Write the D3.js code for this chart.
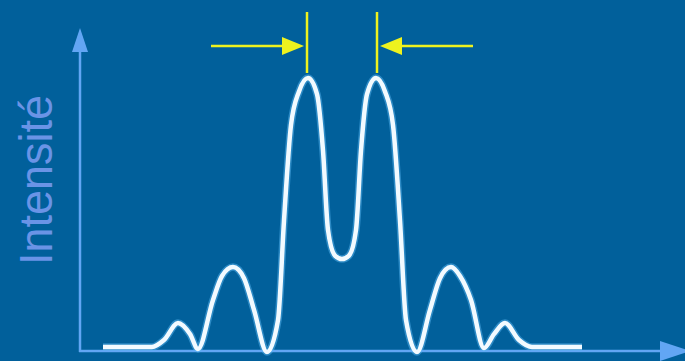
<!DOCTYPE html>
<html>
<head>
<meta charset="utf-8">
<script src="https://cdn.jsdelivr.net/npm/d3@7"></script>
<style>
  html, body { margin: 0; padding: 0; background: #01609b; }
  svg { display: block; }
</style>
</head>
<body>
<div id="chart-area"></div>
<script>
// Values (position in arbitrary units, intensity in %)
let positions = [-47.8, -38, -35.6, -32.8, -30.4, -28.8, -25.8, -24, -21.8, -19.6, -17.6, -15,
    -12.8, -11.6, -10.2, -8.6, -6.8, -5, -3.8, -2.8, -1.4, 0,
    1.4, 2.8, 3.8, 5, 6.8, 8.6, 10.2, 11.6, 12.8, 15,
    17.6, 19.6, 21.8, 23.6, 25.8, 28.4, 30.4, 32.6, 35.4, 38, 48];
let intensities = [0, 0, 2.6, 8.9, 4.8, -0.7, 17.5, 26.4, 29.7, 25.6, 13.8, -1.9,
    10, 47, 82.5, 95, 100, 94, 73, 43.5, 34, 32.7,
    34, 43.5, 73, 94, 100, 95, 82.5, 47, 10, -1.9,
    13.8, 25.6, 29.7, 26.4, 17.5, -0.4, 4.8, 8.9, 2.6, 0, 0];
// the two maxima marked by the yellow arrows
let peakPositions = [-6.8, 6.8];
let axisLabel = "Intensité";

let width = 685;
let height = 361;

let svg = d3.select("#chart-area").append("svg")
    .attr("width", width)
    .attr("height", height);

svg.append("rect")
    .attr("width", width)
    .attr("height", height)
    .attr("fill", "#01609b");

let xScale = d3.scaleLinear()
    .domain([-50, 50])
    .range([92, 592]);

let yScale = d3.scaleLinear()
    .domain([0, 100])
    .range([347, 78]);

let axisColor = "#62a6f4";
let originX = xScale(-52.4);
let originY = yScale(-1.5);

// y axis with arrow
svg.append("line")
    .attr("x1", originX).attr("x2", originX)
    .attr("y1", originY + 1).attr("y2", 44)
    .attr("stroke", axisColor)
    .attr("stroke-width", 2.5);
svg.append("path")
    .attr("d", `M${originX},28 L${originX - 8},52 L${originX + 8},52 Z`)
    .attr("fill", axisColor);

// x axis with arrow
svg.append("line")
    .attr("x1", originX - 1).attr("x2", 668)
    .attr("y1", originY).attr("y2", originY)
    .attr("stroke", axisColor)
    .attr("stroke-width", 2.5);
svg.append("path")
    .attr("d", `M690,${originY} L660,${originY - 10} L660,${originY + 10} Z`)
    .attr("fill", axisColor);

// y axis label
svg.append("text")
    .attr("transform", "translate(52,180) rotate(-90)")
    .attr("text-anchor", "middle")
    .attr("font-family", "'Liberation Sans Narrow', 'Arial Narrow', 'Liberation Sans', sans-serif")
    .attr("font-size", 46)
    .attr("textLength", 170)
    .attr("lengthAdjust", "spacingAndGlyphs")
    .attr("fill", "#6a94e6")
    .text(axisLabel);

// intensity curve
let data = positions.map((p, i) => ({x: p, y: intensities[i]}));

let line = d3.line()
    .x(d => xScale(d.x))
    .y(d => yScale(d.y))
    .curve(d3.curveMonotoneX);

svg.append("path")
    .datum(data)
    .attr("d", line)
    .attr("fill", "none")
    .attr("stroke", "#58b4f0")
    .attr("stroke-opacity", 0.5)
    .attr("stroke-width", 7.5)
    .attr("stroke-linejoin", "round");

svg.append("path")
    .datum(data)
    .attr("d", line)
    .attr("fill", "none")
    .attr("stroke", "#f2faff")
    .attr("stroke-width", 4.5)
    .attr("stroke-linejoin", "round");

// yellow markers at the two maxima
let yellow = "#eef21e";
let arrowY = 46;

svg.selectAll(".peak-line")
    .data(peakPositions)
    .enter()
    .append("line")
    .attr("class", "peak-line")
    .attr("x1", d => xScale(d) - (d < 0 ? 1 : -1)).attr("x2", d => xScale(d) - (d < 0 ? 1 : -1))
    .attr("y1", 12).attr("y2", 73)
    .attr("stroke", yellow)
    .attr("stroke-width", 2.5);

// arrows pointing inwards to the peak lines
peakPositions.forEach(p => {
    let dir = p < 0 ? 1 : -1;
    let tip = xScale(p) - dir * 4;
    let tail = tip - dir * 93;
    svg.append("line")
        .attr("x1", tail).attr("x2", tip - dir * 12)
        .attr("y1", arrowY).attr("y2", arrowY)
        .attr("stroke", yellow)
        .attr("stroke-width", 2.5);
    svg.append("path")
        .attr("d", `M${tip},${arrowY} L${tip - dir * 22},${arrowY - 9} L${tip - dir * 22},${arrowY + 9} Z`)
        .attr("fill", yellow);
});
</script>
</body>
</html>
